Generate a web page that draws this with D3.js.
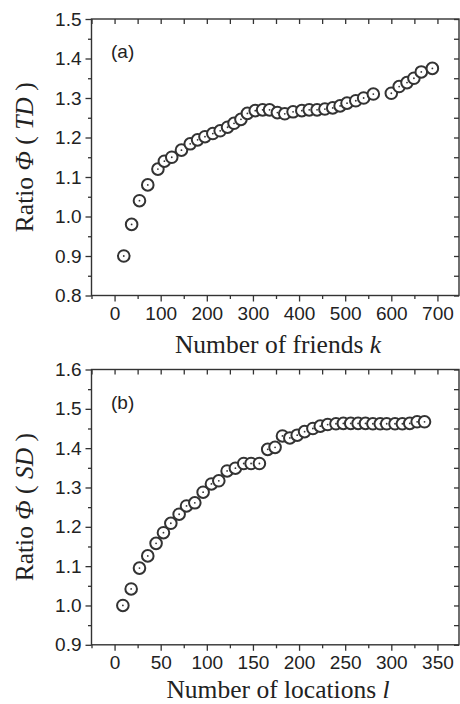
<!DOCTYPE html>
<html><head><meta charset="utf-8">
<script src="https://cdn.jsdelivr.net/npm/d3@7"></script>
<style>body{margin:0;background:#fff}svg{display:block}</style>
</head><body>
<script>
// Panel (a): ratio Phi(TD) vs number of friends k
const friendsK = [20,37,54,72,94,108,124,145,164,180,196,213,229,245,259,274,288,305,321,336,353,369,387,406,422,439,456,473,489,504,523,540,561,600,617,634,649,665,689];
const ratioTD  = [0.90,0.98,1.04,1.08,1.12,1.14,1.15,1.168,1.184,1.194,1.202,1.21,1.217,1.226,1.236,1.246,1.261,1.268,1.27,1.27,1.263,1.26,1.265,1.268,1.27,1.27,1.272,1.275,1.28,1.287,1.293,1.30,1.31,1.312,1.329,1.339,1.35,1.366,1.375];
// Panel (b): ratio Phi(SD) vs number of locations l
const locationsL = [9,18,27,36,45,53,61,70,78,87,96,105,113,122,131,140,148,157,166,174,182,190,198,206,215,223,231,240,248,256,264,272,280,288,295,304,312,320,328,336];
const ratioSD    = [1.0,1.042,1.095,1.126,1.158,1.185,1.209,1.232,1.253,1.261,1.288,1.309,1.317,1.342,1.349,1.361,1.361,1.361,1.397,1.402,1.431,1.426,1.433,1.442,1.450,1.456,1.460,1.462,1.463,1.463,1.463,1.463,1.462,1.462,1.462,1.462,1.462,1.463,1.467,1.467];
// Tick labels
const xTicksA = [0,100,200,300,400,500,600,700];
const yTicksA = [0.8,0.9,1.0,1.1,1.2,1.3,1.4,1.5];
const xTicksB = [0,50,100,150,200,250,300,350];
const yTicksB = [0.9,1.0,1.1,1.2,1.3,1.4,1.5,1.6];

const W = 460, H = 704;
const ink = "#333";
const svg = d3.select("body").append("svg").attr("width", W).attr("height", H);

function panel(cfg) {
  const {top, bottom, xDom, yDom, xTicks, yTicks, xMinor, yMinor, xs, ys, label, yName, xName, xVar, xTitleY} = cfg;
  const left = 91.5, right = 460.5;
  const x = d3.scaleLinear().domain(xDom).range([left, right]);
  const y = d3.scaleLinear().domain(yDom).range([bottom, top]);
  const g = svg.append("g");
  const fmtY = d3.format(".1f");

  // bottom axis major
  g.append("g").attr("transform", `translate(0,${bottom})`)
    .call(d3.axisBottom(x).tickValues(xTicks).tickSize(6).tickPadding(5).tickFormat(d3.format("d")))
    .call(a => a.select(".domain").remove());
  g.append("g").attr("transform", `translate(0,${bottom})`)
    .call(d3.axisBottom(x).tickValues(xMinor).tickSize(3.5).tickFormat(""))
    .call(a => a.select(".domain").remove());
  // top axis (inward)
  g.append("g").attr("transform", `translate(0,${top})`)
    .call(d3.axisTop(x).tickValues(xTicks.concat(xMinor)).tickSize(-5).tickFormat(""))
    .call(a => a.select(".domain").remove());
  // left axis
  g.append("g").attr("transform", `translate(${left},0)`)
    .call(d3.axisLeft(y).tickValues(yTicks).tickSize(6).tickPadding(4).tickFormat(fmtY))
    .call(a => a.select(".domain").remove());
  g.append("g").attr("transform", `translate(${left},0)`)
    .call(d3.axisLeft(y).tickValues(yMinor).tickSize(3.5).tickFormat(""))
    .call(a => a.select(".domain").remove());
  // right axis (inward)
  g.append("g").attr("transform", `translate(${right - 1.5},0)`)
    .call(d3.axisRight(y).tickValues(yTicks.concat(yMinor)).tickSize(-5).tickFormat(""))
    .call(a => a.select(".domain").remove());

  g.selectAll(".tick line").attr("stroke", ink).attr("stroke-width", 1.3);
  g.selectAll(".tick text").attr("fill", "#222").style("font-family", "'Liberation Sans', Arial, sans-serif").style("font-size", "19px");

  // frame
  g.append("rect").attr("x", left).attr("y", top).attr("width", right - 1.5 - left).attr("height", bottom - top)
    .attr("fill", "none").attr("stroke", ink).attr("stroke-width", 1.4);

  // markers
  const pts = xs.map((v, i) => [v, ys[i]]);
  const m = g.append("g");
  m.selectAll("circle.o").data(pts).join("circle").attr("class", "o")
    .attr("cx", d => x(d[0])).attr("cy", d => y(d[1])).attr("r", 5.8)
    .attr("fill", "#fff").attr("stroke", ink).attr("stroke-width", 2);
  m.selectAll("circle.c").data(pts).join("circle").attr("class", "c")
    .attr("cx", d => x(d[0])).attr("cy", d => y(d[1])).attr("r", 0.9)
    .attr("fill", ink);

  // panel label
  g.append("text").attr("x", 111).attr("y", top + 39).text(label)
    .attr("fill", "#222").style("font-family", "'Liberation Sans', Arial, sans-serif").style("font-size", "19px");

  // y title
  const yt = g.append("text").attr("transform", `translate(33,${(top + bottom) / 2}) rotate(-90)`)
    .attr("text-anchor", "middle").attr("fill", "#222")
    .style("font-family", "'Liberation Serif', 'Times New Roman', serif").style("font-size", "25.5px");
  yt.append("tspan").text("Ratio ");
  yt.append("tspan").style("font-style", "italic").text("Φ");
  yt.append("tspan").text(" ( ");
  yt.append("tspan").style("font-style", "italic").text(yName);
  yt.append("tspan").text(" )");

  // x title
  const xt = g.append("text").attr("x", (left + right) / 2 + 2).attr("y", xTitleY)
    .attr("text-anchor", "middle").attr("fill", "#222")
    .style("font-family", "'Liberation Serif', 'Times New Roman', serif").style("font-size", "25.5px");
  xt.append("tspan").text(xName + " ");
  xt.append("tspan").style("font-style", "italic").text(xVar);
}

panel({
  top: 19, bottom: 295.5, xDom: [-50, 750], yDom: [0.8, 1.5],
  xTicks: xTicksA, yTicks: yTicksA,
  xMinor: [-50,50,150,250,350,450,550,650,750],
  yMinor: [0.85,0.95,1.05,1.15,1.25,1.35,1.45],
  xs: friendsK, ys: ratioTD, label: "(a)", yName: "TD", xName: "Number of friends", xVar: "k", xTitleY: 353
});
panel({
  top: 369.5, bottom: 644.8, xDom: [-25, 375], yDom: [0.9, 1.6],
  xTicks: xTicksB, yTicks: yTicksB,
  xMinor: [-25,25,75,125,175,225,275,325,375],
  yMinor: [0.95,1.05,1.15,1.25,1.35,1.45,1.55],
  xs: locationsL, ys: ratioSD, label: "(b)", yName: "SD", xName: "Number of locations", xVar: "l", xTitleY: 698
});
</script>
</body></html>
